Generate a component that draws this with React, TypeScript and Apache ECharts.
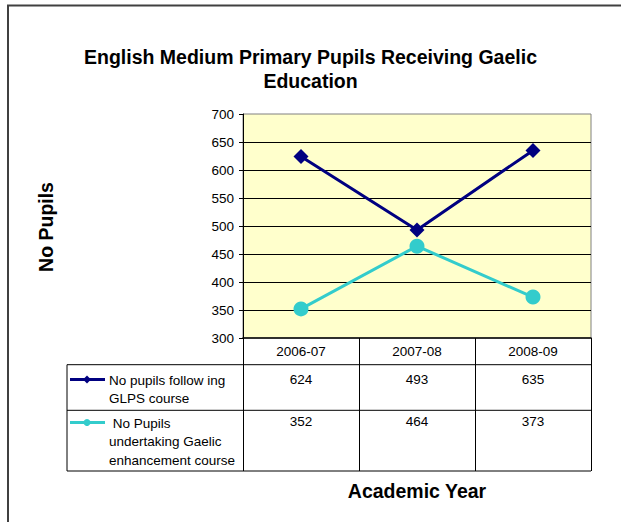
import React, { useEffect, useRef } from "react";
import * as echarts from "echarts";

const categories = ["2006-07", "2007-08", "2008-09"];
const glpsValues = [624, 493, 635];
const enhancementValues = [352, 464, 373];
const seriesNames = ["No pupils follow ing\nGLPS course", " No Pupils\nundertaking Gaelic\nenhancement course"];
const yTicks = { min: 300, max: 700, interval: 50 };
const titleText = "English Medium Primary Pupils Receiving Gaelic\nEducation";
const xTitle = "Academic Year";
const yTitle = "No Pupils";

const FONT = "Arial, 'Liberation Sans', sans-serif";
const NAVY = "#000080";
const CYAN = "#33CCCC";
const SMALL = 13.5;
const BIG = 19.5;

export default function App() {
  const ref = useRef<HTMLDivElement>(null);
  useEffect(() => {
    if (!ref.current) return;
    const chart = echarts.init(ref.current, null, { renderer: "svg" });
    const gridLeft = 243;
    const gridTop = 114;
    const gridW = 348;
    const gridH = 224;
    const tableLeft = 67;
    const tableRight = gridLeft + gridW;
    const row1Top = 364.7;
    const row2Top = 410.3;
    const tableBottom = 471;

    const base: any = {
      animation: false,
      backgroundColor: "#ffffff",
      grid: {
        left: gridLeft,
        top: gridTop,
        width: gridW,
        height: gridH,
        show: true,
        backgroundColor: "#FFFFCC",
        borderColor: "#808080",
        borderWidth: 1,
      },
      xAxis: {
        type: "category",
        data: categories,
        boundaryGap: true,
        axisLine: { show: true, lineStyle: { color: "#000", width: 1.5 } },
        axisTick: { show: true, inside: false, length: tableBottom - (gridTop + gridH), lineStyle: { color: "#000", width: 1 } },
        axisLabel: { fontFamily: FONT, fontSize: SMALL, color: "#000", margin: 6 },
        splitLine: { show: false },
      },
      yAxis: {
        type: "value",
        min: yTicks.min,
        max: yTicks.max,
        interval: yTicks.interval,
        axisLine: { show: true, lineStyle: { color: "#000", width: 1 } },
        axisTick: { show: true, inside: false, length: 4, lineStyle: { color: "#000" } },
        axisLabel: { fontFamily: FONT, fontSize: SMALL, color: "#000", margin: 9 },
        splitLine: { show: true, showMaxLine: false, showMinLine: false, lineStyle: { color: "#000", width: 1 } },
      },
      series: [
        {
          name: seriesNames[0],
          type: "line",
          data: glpsValues,
          symbol: "diamond",
          symbolSize: 15,
          lineStyle: { color: NAVY, width: 3 },
          itemStyle: { color: NAVY },
        },
        {
          name: seriesNames[1],
          type: "line",
          data: enhancementValues,
          symbol: "circle",
          symbolSize: 15,
          lineStyle: { color: CYAN, width: 3 },
          itemStyle: { color: CYAN },
        },
      ],
    };
    chart.setOption(base);

    const colX = categories.map((_, i) => chart.convertToPixel({ xAxisIndex: 0 } as any, i) as number);
    const lineStyle = { stroke: "#000", lineWidth: 1 };
    const graphics: any[] = [
      // outer frame (left & top visible)
      { type: "line", shape: { x1: 8, y1: 5, x2: 8, y2: 522 }, style: { stroke: "#404040", lineWidth: 2 } },
      { type: "line", shape: { x1: 7, y1: 5.5, x2: 621, y2: 5.5 }, style: { stroke: "#404040", lineWidth: 2 } },
      // title
      {
        type: "text", x: 310.5, y: 45,
        style: { text: titleText, fontFamily: FONT, fontSize: BIG, fontWeight: "bold", lineHeight: 24, fill: "#000", textAlign: "center", textVerticalAlign: "top" },
      },
      // table lines
      { type: "line", shape: { x1: tableLeft, y1: row1Top, x2: tableRight, y2: row1Top }, style: lineStyle },
      { type: "line", shape: { x1: tableLeft, y1: row2Top, x2: tableRight, y2: row2Top }, style: lineStyle },
      { type: "line", shape: { x1: tableLeft, y1: tableBottom, x2: tableRight, y2: tableBottom }, style: lineStyle },
      { type: "line", shape: { x1: tableLeft, y1: row1Top, x2: tableLeft, y2: tableBottom }, style: lineStyle },
      // legend keys
      { type: "line", shape: { x1: 70, y1: 379.5, x2: 105, y2: 379.5 }, style: { stroke: NAVY, lineWidth: 3 } },
      { type: "polygon", shape: { points: [[87, 375.5], [91, 379.5], [87, 383.5], [83, 379.5]] }, style: { fill: NAVY } },
      { type: "line", shape: { x1: 70, y1: 422.5, x2: 105, y2: 422.5 }, style: { stroke: CYAN, lineWidth: 3 } },
      { type: "circle", shape: { cx: 87, cy: 422.5, r: 3.5 }, style: { fill: CYAN } },
      // legend texts
      {
        type: "text", x: 109, y: 371,
        style: { text: seriesNames[0], fontFamily: FONT, fontSize: SMALL, lineHeight: 18, fill: "#000", textAlign: "left", textVerticalAlign: "top" },
      },
      {
        type: "text", x: 109, y: 414,
        style: { text: seriesNames[1], fontFamily: FONT, fontSize: SMALL, lineHeight: 18.5, fill: "#000", textAlign: "left", textVerticalAlign: "top" },
      },
      // axis titles
      {
        type: "text", x: 417, y: 491,
        style: { text: xTitle, fontFamily: FONT, fontSize: BIG, fontWeight: "bold", fill: "#000", textAlign: "center", textVerticalAlign: "middle" },
      },
      {
        type: "text", x: 46, y: 227, rotation: Math.PI / 2,
        style: { text: yTitle, fontFamily: FONT, fontSize: BIG, fontWeight: "bold", fill: "#000", textAlign: "center", textVerticalAlign: "middle" },
      },
    ];
    colX.forEach((x, i) => {
      graphics.push({
        type: "text", x, y: 379,
        style: { text: String(glpsValues[i]), fontFamily: FONT, fontSize: SMALL, fill: "#000", textAlign: "center", textVerticalAlign: "middle" },
      });
      graphics.push({
        type: "text", x, y: 421.7,
        style: { text: String(enhancementValues[i]), fontFamily: FONT, fontSize: SMALL, fill: "#000", textAlign: "center", textVerticalAlign: "middle" },
      });
    });
    chart.setOption({ graphic: graphics });

    return () => chart.dispose();
  }, []);
  return <div ref={ref} style={{ width: 621, height: 522, position: "absolute", left: 0, top: 0 }} />;
}
